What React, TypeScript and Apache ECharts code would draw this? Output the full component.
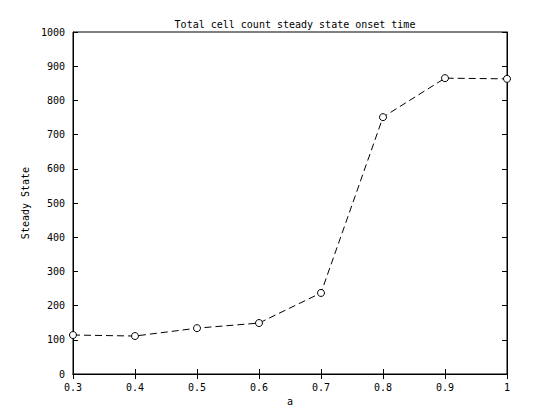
import { useEffect, useRef } from "react";
import * as echarts from "echarts";

const aValues = [0.3, 0.4, 0.5, 0.6, 0.7, 0.8, 0.9, 1.0];
const steadyState = [114, 111, 134, 149, 237, 751, 865, 863];
const yTicks = [0, 100, 200, 300, 400, 500, 600, 700, 800, 900, 1000];

const font = "DejaVu Sans Mono, monospace";

export default function App() {
  const chartRef = useRef<HTMLDivElement>(null);

  useEffect(() => {
    if (!chartRef.current) return;
    const chart = echarts.init(chartRef.current, undefined, { renderer: "svg" });

    const axisCommon = {
      axisLine: { show: true, lineStyle: { color: "#000" } },
      axisTick: { show: true, inside: true, length: 5, lineStyle: { color: "#000" } },
      splitLine: { show: false },
    };

    chart.setOption({
      animation: false,
      backgroundColor: "#fff",
      title: {
        text: "Total cell count steady state onset time",
        left: 290,
        top: 14,
        textAlign: "center",
        textStyle: { fontFamily: font, fontSize: 10, fontWeight: "normal", color: "#000" },
      },
      grid: { left: 73, right: 53, top: 32, bottom: 46, show: true, borderColor: "#000", borderWidth: 1 },
      xAxis: [
        {
          type: "value",
          min: 0.3,
          max: 1,
          interval: 0.1,
          name: "a",
          nameLocation: "middle",
          nameGap: 22,
          nameTextStyle: { fontFamily: font, fontSize: 10, color: "#000" },
          ...axisCommon,
          axisLabel: {
            fontFamily: font,
            fontSize: 10,
            color: "#000",
            formatter: (v: number) => (Math.abs(v - 1) < 1e-9 ? "1" : String(Math.round(v * 10) / 10)),
          },
        },
        { type: "value", position: "top", min: 0.3, max: 1, interval: 0.1, ...axisCommon, axisLabel: { show: false } },
      ],
      yAxis: [
        {
          type: "value",
          min: yTicks[0],
          max: yTicks[yTicks.length - 1],
          interval: 100,
          name: "Steady State",
          nameLocation: "middle",
          nameGap: 36,
          nameTextStyle: { fontFamily: font, fontSize: 10, color: "#000" },
          ...axisCommon,
          axisLabel: { fontFamily: font, fontSize: 10, color: "#000", formatter: (v: number) => String(v) },
        },
        { type: "value", position: "right", min: 0, max: 1000, interval: 100, ...axisCommon, axisLabel: { show: false } },
      ],
      series: [
        {
          type: "line",
          data: aValues.map((a, i) => [a, steadyState[i]]),
          symbol: "circle",
          symbolSize: 7,
          itemStyle: { color: "#fff", borderColor: "#000", borderWidth: 1 },
          lineStyle: { color: "#000", width: 1, type: [7, 4] },
        },
      ],
    });

    return () => chart.dispose();
  }, []);

  return <div ref={chartRef} style={{ width: 560, height: 420, margin: -8 }} />;
}
